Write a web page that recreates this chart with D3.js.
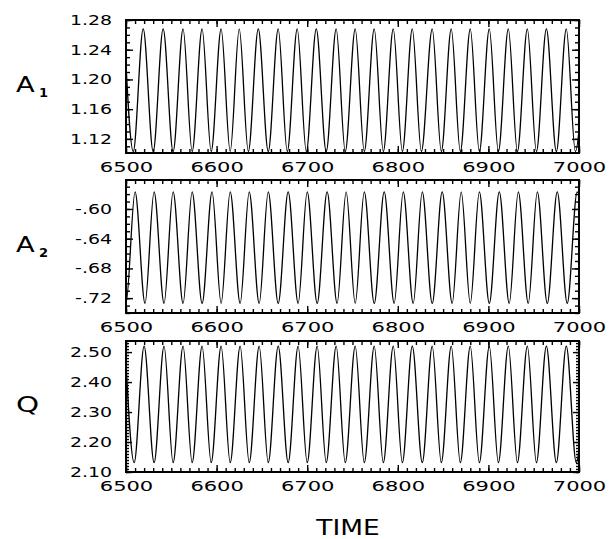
<!DOCTYPE html>
<html>
<head>
<meta charset="utf-8">
<script src="https://cdn.jsdelivr.net/npm/d3@7"></script>
<style>
  body { margin: 0; background: #fff; }
  text { font-family: "DejaVu Sans", sans-serif; fill: #000; }
</style>
</head>
<body>
<div id="chart"></div>
<script>
// tick labels
const timeTicks = [6500, 6600, 6700, 6800, 6900, 7000]
const a1Ticks = [1.12, 1.16, 1.20, 1.24, 1.28]
const a2Ticks = [-0.60, -0.64, -0.68, -0.72]
const qTicks = [2.10, 2.20, 2.30, 2.40, 2.50]

// turning points of each trace (time of each max / min)
const a1PeakTimes = [6498, 6519, 6541, 6563, 6584, 6605, 6625, 6646, 6668, 6689, 6710, 6732, 6753,
  6774, 6795, 6816, 6838, 6859, 6880, 6901, 6922, 6943, 6964, 6986, 7007]
const a1TroughTimes = [6508, 6530, 6552, 6573, 6594, 6615, 6635, 6657, 6678, 6699, 6721, 6742,
  6763, 6784, 6805, 6826, 6848, 6869, 6890, 6911, 6932, 6953, 6975, 6996]
const a1Levels = [1.268, 1.103] // max, min

const a2PeakTimes = [6489, 6510, 6531, 6552, 6573, 6595, 6615, 6636, 6657, 6679, 6700, 6722, 6743,
  6763, 6785, 6806, 6827, 6849, 6870, 6890, 6912, 6933, 6954, 6976, 6998]
const a2TroughTimes = [6500, 6521, 6542, 6563, 6584, 6605, 6626, 6647, 6668, 6690, 6711, 6733,
  6753, 6774, 6796, 6817, 6838, 6860, 6880, 6901, 6923, 6944, 6965, 6987, 7009]
const a2Levels = [-0.577, -0.727]

const qPeakTimes = [6499, 6520, 6542, 6563, 6584, 6605, 6626, 6647, 6668, 6690, 6711, 6732, 6753,
  6774, 6795, 6816, 6838, 6859, 6880, 6901, 6922, 6943, 6964, 6986, 7007]
const qTroughTimes = [6509, 6531, 6552, 6573, 6594, 6615, 6636, 6657, 6679, 6700, 6721, 6742,
  6763, 6784, 6805, 6827, 6848, 6869, 6890, 6911, 6932, 6953, 6975, 6997]
const qLevels = [2.520, 2.131]

const width = 615
const height = 539
const left = 126
const right = 579

const svg = d3.select("#chart")
  .append("svg")
  .attr("width", width)
  .attr("height", height)
  .style("background", "#fff")

const x = d3.scaleLinear().domain([6500, 7000]).range([left, right])

const f2 = d3.format(".2f")
const panels = [
  { id: "a1", label: "A", sub: "1", top: 20, bottom: 153, domain: [1.101, 1.28], ticks: a1Ticks,
    minor: 0.01, majorLen: 7, minorLen: 4, fmt: f2,
    peaks: a1PeakTimes, troughs: a1TroughTimes, levels: a1Levels },
  { id: "a2", label: "A", sub: "2", top: 180, bottom: 313, domain: [-0.740, -0.561], ticks: a2Ticks,
    minor: 0.01, majorLen: 7, minorLen: 4, fmt: d => "-" + f2(-d).slice(1),
    peaks: a2PeakTimes, troughs: a2TroughTimes, levels: a2Levels },
  { id: "q", label: "Q", sub: "", top: 341, bottom: 472, domain: [2.10, 2.537], ticks: qTicks,
    minor: 0.01, majorLen: 6, minorLen: 3, fmt: f2,
    peaks: qPeakTimes, troughs: qTroughTimes, levels: qLevels }
]

// widen glyphs a bit, the original lettering is a broad round face
function stretch(sel, k) {
  sel.each(function () {
    const w = this.getComputedTextLength()
    d3.select(this).attr("textLength", w * k).attr("lengthAdjust", "spacingAndGlyphs")
  })
}

function minorValues(d0, d1, step) {
  const lo = Math.min(d0, d1), hi = Math.max(d0, d1)
  return d3.range(Math.ceil(lo / step - 1e-6), Math.floor(hi / step + 1e-6) + 1).map(i => +(i * step).toFixed(4))
}

panels.forEach(p => {
  const y = d3.scaleLinear().domain(p.domain).range([p.bottom, p.top])
  const g = svg.append("g")

  // clip so the traces stop at the frame
  svg.append("clipPath").attr("id", "clip-" + p.id)
    .append("rect")
    .attr("x", left).attr("y", p.top)
    .attr("width", right - left).attr("height", p.bottom - p.top)

  const pts = p.peaks.map(t => [t, p.levels[0]])
    .concat(p.troughs.map(t => [t, p.levels[1]]))
    .sort((a, b) => a[0] - b[0])

  const line = d3.line()
    .x(d => x(d[0]))
    .y(d => y(d[1]))
    .curve(d3.curveMonotoneX)

  g.append("path")
    .datum(pts)
    .attr("clip-path", "url(#clip-" + p.id + ")")
    .attr("d", line)
    .attr("fill", "none")
    .attr("stroke", "#000")
    .attr("stroke-width", 1.3)

  // minor ticks, all four sides, pointing inward
  const xMinor = d3.range(6500, 7001, 10)
  const yMinor = minorValues(p.domain[0], p.domain[1], p.minor)
  const addAxis = (axis, tx, ty) => {
    const a = g.append("g").attr("transform", `translate(${tx},${ty})`).call(axis)
    a.select(".domain").remove()
    a.selectAll("line").attr("stroke", "#000").attr("stroke-width", 1.4)
    return a
  }
  addAxis(d3.axisBottom(x).tickValues(xMinor).tickSize(-4).tickFormat(""), 0, p.bottom)
  addAxis(d3.axisTop(x).tickValues(xMinor).tickSize(-4).tickFormat(""), 0, p.top)
  addAxis(d3.axisLeft(y).tickValues(yMinor).tickSize(-p.minorLen).tickFormat(""), left, 0)
  addAxis(d3.axisRight(y).tickValues(yMinor).tickSize(-p.minorLen).tickFormat(""), right, 0)

  // major ticks + labels
  const xb = addAxis(d3.axisBottom(x).tickValues(timeTicks).tickSize(-7).tickPadding(9)
    .tickFormat(d3.format("d")), 0, p.bottom)
  addAxis(d3.axisTop(x).tickValues(timeTicks).tickSize(-7).tickFormat(""), 0, p.top)
  const yl = addAxis(d3.axisLeft(y).tickValues(p.ticks).tickSize(-p.majorLen).tickPadding(14)
    .tickFormat(p.fmt), left, 0)
  addAxis(d3.axisRight(y).tickValues(p.ticks).tickSize(-p.majorLen).tickFormat(""), right, 0)

  xb.selectAll("text").attr("font-size", 14).attr("font-family", null).call(stretch, 1.5)
  yl.selectAll("text").attr("font-size", 14).attr("font-family", null).call(stretch, 1.35)

  // frame
  g.append("rect")
    .attr("x", left).attr("y", p.top)
    .attr("width", right - left).attr("height", p.bottom - p.top)
    .attr("fill", "none")
    .attr("stroke", "#000")
    .attr("stroke-width", 2)

  // panel name
  const cy = (p.top + p.bottom) / 2
  const name = g.append("text")
    .attr("x", 16)
    .attr("y", cy + 5)
    .attr("font-size", 21)
    .text(p.label)
  stretch(name, p.label === "Q" ? 1.4 : 1.3)
  if (p.sub) {
    g.append("text")
      .attr("x", 39)
      .attr("y", cy + 10)
      .attr("font-size", 13)
      .attr("font-weight", "bold")
      .text(p.sub)
  }
})

const title = svg.append("text")
  .attr("x", 348)
  .attr("y", 535)
  .attr("text-anchor", "middle")
  .attr("font-size", 22)
  .text("TIME")
stretch(title, 1.2)
</script>
</body>
</html>
